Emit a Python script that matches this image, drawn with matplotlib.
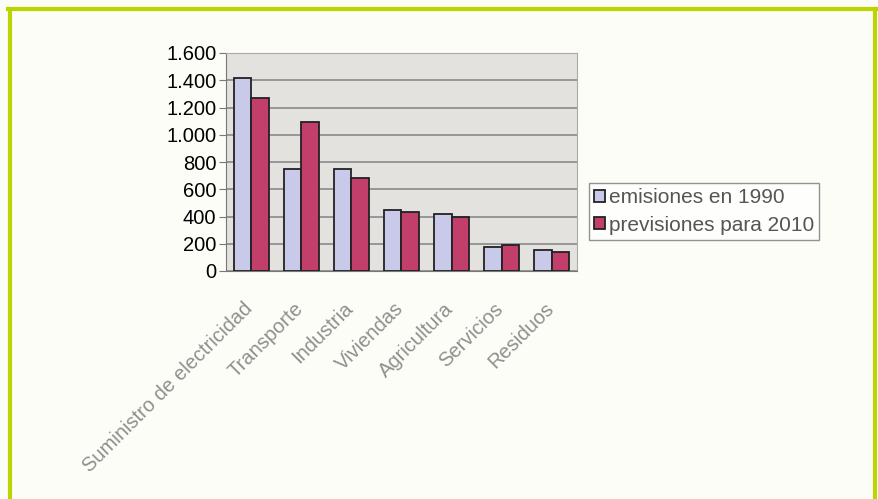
import numpy as np
import matplotlib.pyplot as plt
import matplotlib.transforms as mtrans
from matplotlib.ticker import FuncFormatter

plt.rcParams['font.family'] = ['Liberation Sans', 'DejaVu Sans']

categorias = ["Suministro de electricidad", "Transporte", "Industria", "Viviendas",
              "Agricultura", "Servicios", "Residuos"]
emisiones1990 = [1420, 745, 750, 445, 415, 178, 155]
previsiones2010 = [1270, 1090, 680, 432, 398, 188, 136]

fig = plt.figure(figsize=(8.79, 4.99), dpi=100)
fig.patch.set_facecolor("#fdfdf8")

# marco verde
frameColor = "#bcd400"
fig.add_artist(plt.Line2D([10/879, 10/879], [0, 1-9/499], color=frameColor, lw=3, transform=fig.transFigure))
fig.add_artist(plt.Line2D([8/879, 877/879], [1-9/499, 1-9/499], color=frameColor, lw=3, transform=fig.transFigure))
fig.add_artist(plt.Line2D([875/879, 875/879], [0, 1-9/499], color=frameColor, lw=3, transform=fig.transFigure))

ax = fig.add_axes([226/879, 1-271/499, 351/879, 218/499])
ax.set_facecolor("#e4e2df")

x = np.arange(len(categorias))
w = 0.35
ax.bar(x - w/2, emisiones1990, w, color="#c9c9ea", edgecolor="#222222", lw=1.3,
       label="emisiones en 1990", zorder=3)
ax.bar(x + w/2, previsiones2010, w, color="#c23f6b", edgecolor="#222222", lw=1.3,
       label="previsiones para 2010", zorder=3)

ax.set_xlim(-0.5, len(categorias) - 0.5)
ax.set_ylim(0, 1600)
ax.set_yticks(np.arange(0, 1601, 200))
ax.yaxis.set_major_formatter(FuncFormatter(lambda v, p: "{:,.0f}".format(v).replace(",", ".")))
ax.yaxis.grid(True, color="#8a8a8a", lw=1.2, zorder=1)
ax.tick_params(axis="y", labelsize=14.5, length=5, color="#777777", pad=2)
ax.set_xticks(x)
ax.set_xticklabels(categorias, rotation=45, ha="right", rotation_mode="anchor",
                   fontsize=14.5, color="#8f8f8f")
ax.tick_params(axis="x", length=0, pad=0)
shift = mtrans.ScaledTranslation(-8/100, -28/100, fig.dpi_scale_trans)
for lbl in ax.get_xticklabels():
    lbl.set_transform(lbl.get_transform() + shift)
for s in ["top", "right"]:
    ax.spines[s].set_color("#aaaaaa")
ax.spines["left"].set_color("#777777")
ax.spines["bottom"].set_color("#777777")

leg = ax.legend(loc="upper left", bbox_to_anchor=(589/879, 1-183/499), bbox_transform=fig.transFigure,
                borderaxespad=0, fontsize=15, frameon=True, fancybox=False, edgecolor="#777777",
                handlelength=0.5, handleheight=0.5, handletextpad=0.2, borderpad=0.25,
                labelspacing=0.4, labelcolor="#555555")
leg.get_frame().set_linewidth(1)

fig.savefig("out.png", dpi=100, facecolor=fig.get_facecolor())
